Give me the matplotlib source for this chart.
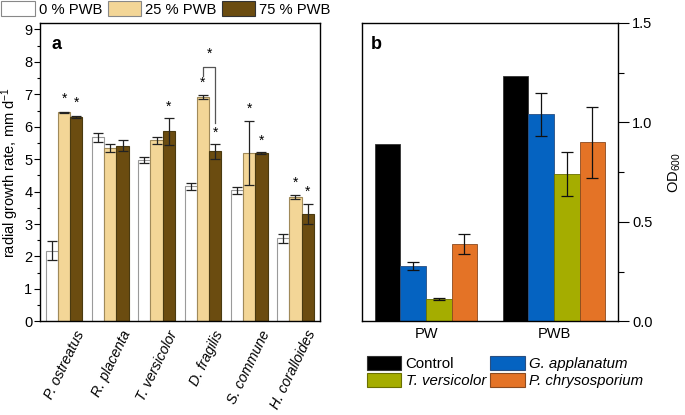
import numpy as np
import matplotlib
matplotlib.use("Agg")
import matplotlib.pyplot as plt
from matplotlib.patches import Patch
from matplotlib.ticker import MultipleLocator
import matplotlib.transforms as mtransforms

plt.rcParams['font.family'] = ['Liberation Sans', 'DejaVu Sans']
plt.rcParams['mathtext.fontset'] = 'custom'
plt.rcParams['mathtext.rm'] = 'Liberation Sans'
plt.rcParams['mathtext.it'] = 'Liberation Sans:italic'

# ---------------- data panel a ----------------
species = ["P. ostreatus", "R. placenta", "T. versicolor", "D. fragilis", "S. commune", "H. coralloides"]
conc_labels = ["0 % PWB", "25 % PWB", "75 % PWB"]
growth_0 = [2.18, 5.67, 4.98, 4.16, 4.04, 2.56]
growth_0_err = [0.30, 0.15, 0.10, 0.10, 0.10, 0.13]
growth_25 = [6.44, 5.35, 5.58, 6.93, 5.19, 3.83]
growth_25_err = [0.02, 0.12, 0.10, 0.06, 1.00, 0.05]
growth_75 = [6.30, 5.42, 5.86, 5.24, 5.19, 3.31]
growth_75_err = [0.03, 0.18, 0.41, 0.23, 0.02, 0.30]
# significance stars: (species index, series index, value height)
stars = [(0, 1, 6.85), (0, 2, 6.75), (2, 2, 6.62), (3, 1, 7.36), (3, 2, 5.82),
         (4, 1, 6.55), (4, 2, 5.58), (5, 1, 4.26), (5, 2, 3.98)]
bracket_left_low, bracket_top, bracket_right_low, bracket_star = 7.57, 7.85, 6.12, 8.24

# ---------------- data panel b ----------------
media = ["PW", "PWB"]
fungi = ["Control", "G. applanatum", "T. versicolor", "P. chrysosporium"]
od_control = [0.89, 1.235]
od_gappl = [0.28, 1.04]
od_gappl_err = [0.02, 0.11]
od_tvers = [0.11, 0.74]
od_tvers_err = [0.005, 0.11]
od_pchry = [0.39, 0.90]
od_pchry_err = [0.05, 0.18]

W, H = 685, 415
fig = plt.figure(figsize=(W / 100, H / 100), dpi=100)

def ax_rect(x0, y0, x1, y1):
    return [x0 / W, 1 - y1 / H, (x1 - x0) / W, (y1 - y0) / H]

# ---------- panel a ----------
ax = fig.add_axes(ax_rect(40, 23, 320, 321.3))
x = np.arange(len(species))
bw = 0.265
cols_a = ["white", "#F3D697", "#6B4C10"]
edges_a = ["#9a9a9a", "#a08a5a", "#4a3a10"]
series = [(growth_0, growth_0_err), (growth_25, growth_25_err), (growth_75, growth_75_err)]
for i, (vals, errs) in enumerate(series):
    ax.bar(x + (i - 1) * bw, vals, bw, yerr=errs, color=cols_a[i], edgecolor=edges_a[i],
           linewidth=0.8, error_kw=dict(ecolor="#222222", elinewidth=0.9, capsize=3.4, capthick=0.9),
           label=conc_labels[i], zorder=2)
for si, ser, h in stars:
    ax.text(x[si] + (ser - 1) * bw, h, "*", ha="center", va="center", fontsize=10, zorder=3)
xl = x[3]
xr = x[3] + bw
ax.plot([xl, xl, xr, xr], [bracket_left_low, bracket_top, bracket_top, bracket_right_low],
        color="#555555", lw=0.9, zorder=3)
ax.text((xl + xr) / 2, bracket_star, "*", ha="center", va="center", fontsize=10)

ax.set_xlim(-0.52, 5.53)
ax.set_ylim(0, 9.2)
ax.yaxis.set_major_locator(MultipleLocator(1))
ax.yaxis.set_minor_locator(MultipleLocator(0.5))
ax.tick_params(axis="y", which="major", direction="out", length=4, width=0.8, labelsize=10.5, pad=1.5)
ax.tick_params(axis="y", which="minor", direction="out", length=2.2, width=0.8)
ax.tick_params(axis="x", length=0)
ax.set_xticks(x)
ax.set_xticklabels([])
offset = mtransforms.ScaledTranslation(17 / 100, -10 / 100, fig.dpi_scale_trans)
for xi, name in zip(x, species):
    ax.text(xi, 0, name, rotation=64, rotation_mode="anchor", ha="right", va="center",
            style="italic", fontsize=10.3, transform=ax.transData + offset, clip_on=False)
for s in ax.spines.values():
    s.set_linewidth(1.0)
ax.set_ylabel("radial growth rate, mm d$^{-1}$", fontsize=10.5, labelpad=2)
ax.text(0.04, 0.955, "a", transform=ax.transAxes, fontsize=13, fontweight="bold", va="top")

handles_a = [Patch(facecolor=cols_a[i], edgecolor=["#888888", "#888888", "#333333"][i], linewidth=0.8)
             for i in range(3)]
fig.legend(handles_a, conc_labels, loc="upper left", bbox_to_anchor=(0.0, 1.0), ncol=3,
           frameon=False, fontsize=10.6, handlelength=2.25, handleheight=1.15,
           handletextpad=0.3, columnspacing=0.35, borderpad=0.1, borderaxespad=0)

# ---------- panel b ----------
bx = fig.add_axes(ax_rect(362, 23, 618, 321.3))
m = np.arange(len(media))
bw2 = 0.2
cols_b = ["#000000", "#0563C1", "#A5AD00", "#E47326"]
edges_b = ["#333333", "#2a4f80", "#6a7000", "#8a4a20"]
vals_b = [(od_control, None), (od_gappl, od_gappl_err), (od_tvers, od_tvers_err), (od_pchry, od_pchry_err)]
for i, (vals, errs) in enumerate(vals_b):
    bx.bar(m + (i - 1.5) * bw2, vals, bw2, yerr=errs, color=cols_b[i], edgecolor=edges_b[i],
           linewidth=0.6, error_kw=dict(ecolor="#111111", elinewidth=0.9, capsize=4, capthick=0.9),
           label=fungi[i], zorder=2)
bx.set_xlim(-0.5, 1.5)
bx.set_ylim(0, 1.5)
bx.set_xticks(m)
bx.set_xticklabels(media, fontsize=10.5)
bx.tick_params(axis="x", length=0, pad=4)
bx.yaxis.tick_right()
bx.yaxis.set_label_position("right")
bx.yaxis.set_major_locator(MultipleLocator(0.5))
bx.yaxis.set_minor_locator(MultipleLocator(0.25))
bx.yaxis.set_major_formatter(matplotlib.ticker.FormatStrFormatter("%.1f"))
bx.tick_params(axis="y", which="major", direction="out", length=8, width=0.8, labelsize=10.5, pad=2)
bx.tick_params(axis="y", which="minor", direction="out", length=4, width=0.8)
for s in bx.spines.values():
    s.set_linewidth(1.0)
bx.set_ylabel("OD$_{600}$", fontsize=10.5, rotation=90, labelpad=10)
bx.text(0.035, 0.955, "b", transform=bx.transAxes, fontsize=13, fontweight="bold", va="top")

handles_b = [Patch(facecolor=cols_b[i], edgecolor=edges_b[i], linewidth=0.8) for i in [0, 2, 1, 3]]
labels_b = [fungi[0], fungi[2], fungi[1], fungi[3]]
leg = fig.legend(handles_b, labels_b, loc="upper left", bbox_to_anchor=(365 / W, 1 - 354 / H), ncol=2,
                 frameon=False, fontsize=10.8, handlelength=2.3, handleheight=1.15,
                 handletextpad=0.3, columnspacing=0.3, borderpad=0.1, borderaxespad=0, labelspacing=0.1)
for t in leg.get_texts():
    if t.get_text() != "Control":
        t.set_style("italic")

fig.savefig("out.png", dpi=100)
